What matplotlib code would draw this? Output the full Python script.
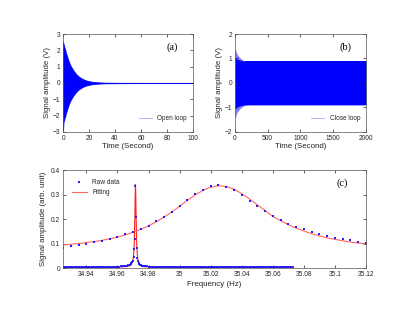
#!/usr/bin/env python

import numpy as np
import matplotlib
matplotlib.use("Agg")
import matplotlib.pyplot as plt

fontsize = 5.7
tfontsize = 4.8
lfontsize = 4.7
pfontsize = 7.5
textcolor = "#262626"

plt.rcParams["font.family"] = ["Liberation Sans", "DejaVu Sans"]
plt.rc("axes", linewidth = 0.5, edgecolor = textcolor)

# (a) open loop: decay envelope of the ringdown signal
t_open = [0, 0.3, 1, 2, 3, 4, 5, 6, 8, 10, 12, 14, 16, 18, 20, 22, 25, 28,
          32, 40, 60, 100]
open_upper = [2.5, 2.4, 2.2, 1.9, 1.65, 1.4, 1.2, 1.02, 0.76, 0.55, 0.40,
              0.29, 0.21, 0.15, 0.11, 0.08, 0.05, 0.035, 0.02, 0.012, 0.008,
              0.008]
open_lower = [-2.9, -2.4, -2.2, -1.9, -1.65, -1.4, -1.2, -1.02, -0.76, -0.55,
              -0.40, -0.29, -0.21, -0.15, -0.11, -0.08, -0.05, -0.035, -0.02,
              -0.012, -0.008, -0.008]

# (b) close loop: envelope (core and ringing spikes)
t_close = [0, 10, 20, 40, 60, 80, 100, 130, 160, 200, 300, 2000]
close_core = [1.05, 1.05, 1.0, 0.97, 0.95, 0.93, 0.92, 0.9, 0.89, 0.89,
              0.89, 0.89]
close_spike_up = [1.35, 1.38, 1.25, 1.15, 1.08, 1.02, 0.97, 0.93, 0.9, 0.89,
                  0.89, 0.89]
close_spike_lo = [-1.4, -1.42, -1.28, -1.17, -1.1, -1.04, -0.99, -0.94, -0.91,
                  -0.89, -0.89, -0.89]

# (c) broad resonance (open loop) raw data and fit, 34.925 .. 35.12 Hz
broad_freq = np.round(34.925 + 0.005 * np.arange(40), 3)
broad_amp = [0.083, 0.088, 0.094, 0.099, 0.105, 0.112, 0.120, 0.128, 0.137,
             0.148, 0.159, 0.173, 0.190, 0.210, 0.230, 0.253, 0.276, 0.301,
             0.320, 0.336, 0.339, 0.332, 0.317, 0.297, 0.273, 0.253, 0.231,
             0.212, 0.196, 0.181, 0.167, 0.158, 0.148, 0.140, 0.132, 0.124,
             0.118, 0.113, 0.107, 0.103]
broad_fit = [0.094, 0.097, 0.100, 0.104, 0.108, 0.113, 0.119, 0.126, 0.135,
             0.146, 0.158, 0.172, 0.189, 0.208, 0.229, 0.252, 0.276, 0.298,
             0.317, 0.330, 0.336, 0.333, 0.322, 0.304, 0.282, 0.258, 0.235,
             0.210, 0.193, 0.177, 0.163, 0.151, 0.140, 0.131, 0.123, 0.117,
             0.111, 0.106, 0.102, 0.099]

# (c) narrow resonance (close loop) raw data
narrow_left_freq = np.round(34.925 + 0.001 * np.arange(42), 3)
narrow_left_amp = [
    0.005, 0.004, 0.005, 0.004, 0.004, 0.005, 0.004, 0.004, 0.005, 0.004,
    0.004, 0.005, 0.004, 0.004, 0.004, 0.005, 0.004, 0.004, 0.004, 0.005,
    0.004, 0.004, 0.005, 0.004, 0.004, 0.004, 0.005, 0.004, 0.005, 0.005,
    0.005, 0.005, 0.005, 0.006, 0.005, 0.006, 0.006, 0.007, 0.007, 0.008,
    0.009, 0.010]
narrow_peak_freq = [34.967, 34.968, 34.9685, 34.969, 34.9695, 34.970, 34.9704,
                    34.9708, 34.9712, 34.9716, 34.9720, 34.9724, 34.9728,
                    34.9732, 34.9736, 34.974, 34.9745, 34.975, 34.9755, 34.976]
narrow_peak_amp = [0.012, 0.014, 0.016, 0.019, 0.023, 0.030, 0.044, 0.078,
                   0.120, 0.336, 0.207, 0.080, 0.042, 0.030, 0.022, 0.018,
                   0.014, 0.012, 0.010, 0.009]
narrow_right_freq = np.round(34.977 + 0.001 * np.arange(97), 3)
narrow_right_amp = [
    0.008, 0.007, 0.007, 0.006, 0.006, 0.005, 0.005, 0.005, 0.004, 0.004,
    0.004, 0.004, 0.004, 0.003, 0.004, 0.003, 0.003, 0.004, 0.003, 0.003,
    0.003, 0.003, 0.004, 0.003, 0.003, 0.003, 0.003, 0.003, 0.004, 0.003,
    0.003, 0.003, 0.003, 0.003, 0.003, 0.004, 0.003, 0.003, 0.003, 0.003,
    0.003, 0.003, 0.003, 0.003, 0.004, 0.003, 0.003, 0.003, 0.003, 0.003,
    0.003, 0.003, 0.003, 0.004, 0.003, 0.003, 0.003, 0.003, 0.003, 0.003,
    0.003, 0.003, 0.003, 0.003, 0.003, 0.004, 0.003, 0.003, 0.003, 0.003,
    0.003, 0.003, 0.003, 0.003, 0.003, 0.003, 0.003, 0.004, 0.003, 0.003,
    0.003, 0.003, 0.003, 0.003, 0.003, 0.003, 0.003, 0.003, 0.003, 0.004,
    0.003, 0.003, 0.003, 0.003, 0.003, 0.003, 0.003]

# (c) narrow resonance fit
narrow_fit_freq = [34.925, 34.935, 34.945, 34.955, 34.960, 34.964, 34.966,
                   34.968, 34.969, 34.970, 34.9704, 34.9708, 34.9712, 34.9714,
                   34.9716, 34.9718, 34.972, 34.9724, 34.9728, 34.9732, 34.974,
                   34.975, 34.977, 34.979, 34.983, 34.990, 35.000, 35.020,
                   35.050, 35.073]
narrow_fit = [0.003, 0.003, 0.003, 0.003, 0.004, 0.005, 0.006, 0.009, 0.015,
              0.033, 0.053, 0.098, 0.209, 0.294, 0.341, 0.294, 0.209, 0.098,
              0.053, 0.033, 0.017, 0.010, 0.006, 0.005, 0.004, 0.003, 0.003,
              0.003, 0.003, 0.003]

c_xticks = [34.94, 34.96, 34.98, 35.0, 35.02, 35.04, 35.06, 35.08, 35.1, 35.12]
c_xticklabels = ["34.94", "34.96", "34.98", "35", "35.02", "35.04", "35.06",
                 "35.08", "35.1", "35.12"]


def style(ax):
    ax.tick_params(direction = "in", length = 2.5, width = 0.5,
                   top = True, right = True, labelsize = tfontsize,
                   colors = textcolor, pad = 2)
    for s in ax.spines.values():
        s.set_color("#555555")


def main():

    fig = plt.figure(figsize = (4.15, 3.12), dpi = 100)

    # (a)
    ax = fig.add_axes([0.152, 0.577, 0.313, 0.314])
    ax.fill_between(t_open, open_lower, open_upper, color = "#0000ff",
                    linewidth = 0.6)
    ax.plot([], [], color = "#a8a8ff", linewidth = 0.6, label = "Open loop")
    ax.set_xlim(0, 100)
    ax.set_ylim(-3, 3)
    ax.set_xticks(range(0, 101, 20))
    ax.set_yticks(range(-3, 4))
    style(ax)
    ax.set_xlabel("Time (Second)", fontsize = fontsize, color = textcolor,
                  labelpad = 1)
    ax.set_ylabel("Signal amplitude (V)", fontsize = fontsize,
                  color = textcolor, labelpad = 1)
    ax.legend(fontsize = lfontsize, loc = "lower right", frameon = False,
              handlelength = 2.0, bbox_to_anchor = (1.0, 0.04),
              labelcolor = textcolor)
    ax.text(0.84, 0.84, "(a)", transform = ax.transAxes,
            family = "Liberation Serif", fontsize = pfontsize, ha = "center")

    # (b)
    ax = fig.add_axes([0.566, 0.577, 0.316, 0.314])
    ax.fill_between(t_close, close_spike_lo, close_spike_up,
                    color = "#7a7aff", linewidth = 0)
    ax.fill_between(t_close, [-v for v in close_core], close_core,
                    color = "#0000ff", linewidth = 0)
    ax.fill_between(t_close, close_spike_lo[-1], close_spike_up[-1],
                    where = [t >= 160 for t in t_close],
                    color = "#0000ff", linewidth = 0)
    ax.plot([], [], color = "#a8a8ff", linewidth = 0.6, label = "Close loop")
    ax.set_xlim(0, 2000)
    ax.set_ylim(-2, 2)
    ax.set_xticks(range(0, 2001, 500))
    ax.set_yticks(range(-2, 3))
    style(ax)
    ax.set_xlabel("Time (Second)", fontsize = fontsize, color = textcolor,
                  labelpad = 1)
    ax.set_ylabel("Signal amplitude (V)", fontsize = fontsize,
                  color = textcolor, labelpad = 1)
    ax.legend(fontsize = lfontsize, loc = "lower right", frameon = False,
              handlelength = 2.0, bbox_to_anchor = (1.0, 0.04),
              labelcolor = textcolor)
    ax.text(0.84, 0.84, "(b)", transform = ax.transAxes,
            family = "Liberation Serif", fontsize = pfontsize, ha = "center")

    # (c)
    ax = fig.add_axes([0.152, 0.141, 0.730, 0.314])
    nf = np.concatenate([narrow_left_freq, narrow_peak_freq, narrow_right_freq])
    na = np.concatenate([narrow_left_amp, narrow_peak_amp, narrow_right_amp])
    ax.plot(narrow_fit_freq, narrow_fit, color = "#ff2020", linewidth = 0.8)
    ax.plot(nf, na, linestyle = "none", marker = "s", markersize = 2.0,
            markeredgewidth = 0, color = "#1010ff", alpha = 0.85)
    ax.plot(broad_freq, broad_fit, color = "#ff6464", linewidth = 0.8,
            label = "Fitting")
    ax.plot(broad_freq, broad_amp, linestyle = "none", marker = "s",
            markersize = 1.7, markeredgewidth = 0, color = "#2020ff",
            label = "Raw data")
    ax.set_xlim(34.925, 35.12)
    ax.set_ylim(0, 0.4)
    ax.set_xticks(c_xticks)
    ax.set_xticklabels(c_xticklabels)
    ax.set_yticks([0, 0.1, 0.2, 0.3, 0.4])
    ax.set_yticklabels(["0", "0.1", "0.2", "0.3", "0.4"])
    style(ax)
    ax.set_xlabel("Frequency (Hz)", fontsize = fontsize, color = textcolor,
                  labelpad = 2)
    ax.set_ylabel("Signal amplitude (arb. unit)", fontsize = fontsize,
                  color = textcolor, labelpad = 3)
    h, l = ax.get_legend_handles_labels()
    ax.legend(h[::-1], l[::-1], fontsize = lfontsize, loc = "upper left",
              frameon = False, handlelength = 2.3,
              bbox_to_anchor = (0.01, 0.97), labelcolor = textcolor)
    ax.text(0.92, 0.84, "(c)", transform = ax.transAxes,
            family = "Liberation Serif", fontsize = pfontsize, ha = "center")

    fig.savefig("out.png", dpi = 100)


if __name__ == "__main__":
    main()
